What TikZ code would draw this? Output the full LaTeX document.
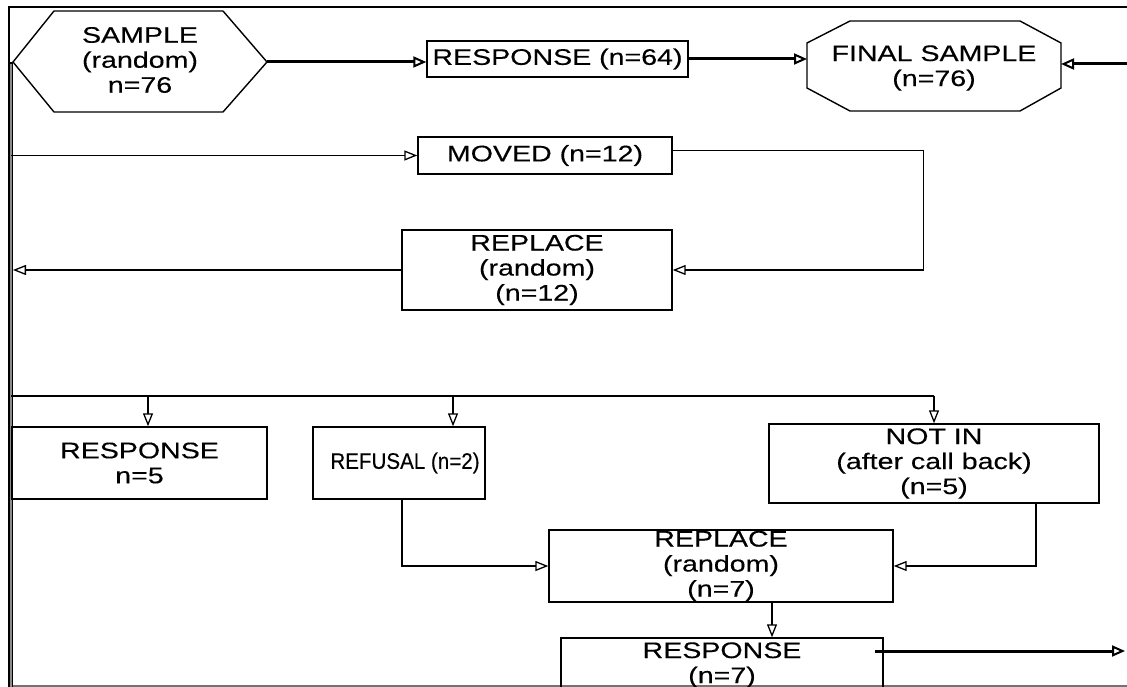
\documentclass[tikz,border=0pt]{standalone}
\usepackage{fontspec}
\setmainfont{Liberation Sans}[FakeStretch=1.27, FakeBold=0.3]
\usetikzlibrary{arrows.meta}
\newcommand\dfont{\fontsize{22.5}{25}\selectfont}
\begin{document}
\begin{tikzpicture}[x=1pt,y=-1pt,
  box/.style={draw, line width=1.4pt, inner sep=0pt, align=center, font=\dfont},
  txt/.style={inner sep=0pt, align=center, font=\dfont},
  shapeline/.style={line width=1.4pt, line join=miter},
  conn/.style={line width=1.2pt, -{Triangle[open, length=13pt, width=10pt, line width=1.3pt]}},
  plain/.style={line width=1.2pt},
  thickconn/.style={line width=3pt, -{Triangle[open, length=13pt, width=11pt, line width=2pt]}},
  frame/.style={line width=2.5pt}]
\useasboundingbox (0,0) rectangle (1127,687);
% frame
\draw[frame] (8,7) -- (1127,7);
\draw[line width=1.2pt] (9,6) -- (9,687);
\draw[line width=1.4pt, black!55] (9,686) -- (1127,686);
% hexagon
\coordinate (hL) at (13,62);
\coordinate (hR) at (267,62);
\draw[shapeline] (hL) -- (54,11) -- (223,11) -- (hR) -- (223,112) -- (54,112) -- cycle;
\node[txt] (sample) at (140,60) {SAMPLE\\(random)\\n=76};
% left trunk
\coordinate (bot) at (11,687);
\draw[line width=4pt] (11,62) -- (bot);
\draw[line width=1.5pt, black!45] (11,64) -- (bot);
\coordinate (L) at (13,0);
% octagon
\draw[shapeline] (807,43) -- (850,21) -- (1020,21) -- (1061,43) -- (1061,88) -- (1020,111) -- (850,111) -- (807,88) -- cycle;
\coordinate (oL) at (807,66);
\coordinate (oR) at (1061,66);
\node[txt] (final) at (934,68) {FINAL SAMPLE\\(n=76)};
% boxes
\node[box, minimum width=261pt, minimum height=36pt] (r64) at (557.5,59) {RESPONSE (n=64)};
\node[box, minimum width=254pt, minimum height=37pt] (moved) at (545,155.5) {MOVED (n=12)};
\node[box, minimum width=270pt, minimum height=80pt] (rep12) at (537,270) {REPLACE\\(random)\\(n=12)};
\node[box, minimum width=255pt, minimum height=72pt] (resp5) at (139.5,463) {RESPONSE\\n=5};
\node[box, minimum width=172pt, minimum height=72pt] (refusal) at (399,463) {};
\node[txt] (refusaltext) at (405,463) {\scalebox{0.72}[1]{REFUSAL (n=2)}};
\node[box, minimum width=330pt, minimum height=79pt] (notin) at (934,463.5) {NOT IN\\(after call back)\\(n=5)};
\node[box, minimum width=344pt, minimum height=72pt] (rep7) at (721,566) {REPLACE\\(random)\\(n=7)};
\node[box, minimum width=322pt, minimum height=54pt] (resp7) at (722,665) {RESPONSE\\(n=7)};
% top thick connectors
\draw[thickconn] (hR) -- (hR -| r64.west);
\draw[thickconn] (r64.east) -- (r64.east -| oL);
\coordinate (rin) at (1127,64);
\draw[thickconn] (rin) -- (rin -| oR);
% moved loop
\coordinate (m1) at (11,155.5);
\draw[conn] (m1) -- (moved.west);
\draw[conn] ([yshift=5pt]moved.east) -- ++(251,0) |- (rep12.east);
\draw[conn] (rep12.west) -- (rep12.west -| L);
% branch line
\coordinate (hb) at (11,396);
\draw[plain] (hb) -- (hb -| notin.north);
\draw[conn] ([xshift=8.5pt]resp5.north |- hb) -- ([xshift=8.5pt]resp5.north);
\draw[conn] ([xshift=54pt]refusal.north |- hb) -- ([xshift=54pt]refusal.north);
\draw[conn] (notin.north |- hb) -- (notin.north);
% into replace 7
\draw[conn] ([xshift=3pt]refusal.south) |- (rep7.west);
\draw[conn] ([xshift=102pt]notin.south) |- (rep7.east);
\draw[conn] ([xshift=51pt]rep7.south) -- ([xshift=51pt]rep7.south |- resp7.north);
% out
\coordinate (outS) at (875,651);
\coordinate (out) at (1125,651);
\draw[thickconn] (outS) -- (out);
\end{tikzpicture}
\end{document}
